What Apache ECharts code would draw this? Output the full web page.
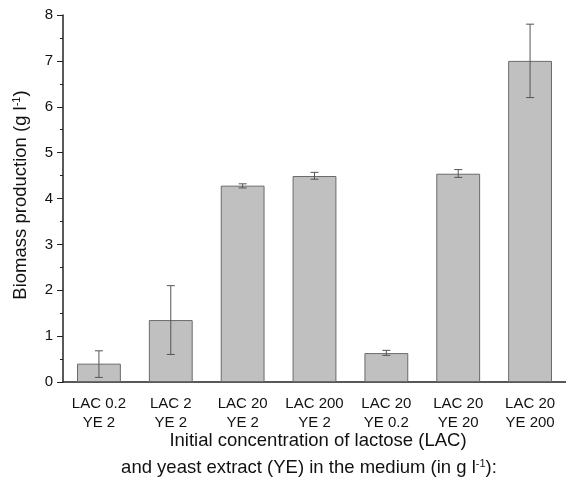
<!DOCTYPE html>
<html lang="en">
<head>
    <meta charset="UTF-8">
    <title>Biomass production</title>
    <script src="https://cdn.jsdelivr.net/npm/echarts@6/dist/echarts.min.js"></script>
    <style type="text/css">
        html, body {
            margin: 0;
            padding: 0;
            background: #fff;
        }
        #chart {
            width: 566px;
            height: 483px;
        }
    </style>
</head>
<body>
<div id="chart"></div>
<script type="text/javascript">
    // 培养基组合
    var categories = ['LAC 0.2\nYE 2', 'LAC 2\nYE 2', 'LAC 20\nYE 2', 'LAC 200\nYE 2',
        'LAC 20\nYE 0.2', 'LAC 20\nYE 20', 'LAC 20\nYE 200'];
    var biomass = [0.40, 1.35, 4.28, 4.49, 0.63, 4.54, 7.00];
    var errLow = [0.10, 0.60, 4.23, 4.42, 0.58, 4.46, 6.20];
    var errHigh = [0.68, 2.10, 4.32, 4.57, 0.69, 4.63, 7.80];
    var yTicks = [0, 1, 2, 3, 4, 5, 6, 7, 8];

    var font = '"Liberation Sans", Arial, sans-serif';

    var errData = [];
    for (var i = 0; i < categories.length; i++) {
        errData.push([i, errLow[i], errHigh[i]]);
    }

    function renderErr(params, api) {
        var x = api.value(0);
        var lo = api.coord([x, api.value(1)]);
        var hi = api.coord([x, api.value(2)]);
        var hw = 4;
        var st = {stroke: '#555', lineWidth: 1};
        return {
            type: 'group',
            children: [
                {type: 'line', shape: {x1: lo[0], y1: lo[1], x2: hi[0], y2: hi[1]}, style: st},
                {type: 'line', shape: {x1: lo[0] - hw, y1: lo[1], x2: lo[0] + hw, y2: lo[1]}, style: st},
                {type: 'line', shape: {x1: hi[0] - hw, y1: hi[1], x2: hi[0] + hw, y2: hi[1]}, style: st}
            ]
        };
    }

    var titleRich = {
        n: {fontFamily: font, fontSize: 18.5, fill: '#111'},
        s: {fontFamily: font, fontSize: 11, fill: '#111', verticalAlign: 'top', padding: [0, 0, 7, 0]}
    };

    var myChart = echarts.init(document.getElementById('chart'));
    var option = {
        animation: false,
        grid: {left: 63, right: 0, top: 15, bottom: 101},
        xAxis: {
            type: 'category',
            data: categories,
            axisLine: {lineStyle: {color: '#222', width: 1.5}},
            axisTick: {show: false},
            axisLabel: {
                color: '#111', fontFamily: font, fontSize: 15,
                lineHeight: 19, margin: 12, interval: 0
            }
        },
        yAxis: {
            type: 'value',
            min: 0,
            max: yTicks[yTicks.length - 1],
            interval: 1,
            splitLine: {show: false},
            axisLine: {show: true, lineStyle: {color: '#222', width: 1.5}},
            axisTick: {show: true, length: 6, lineStyle: {color: '#222'}},
            minorTick: {show: true, splitNumber: 2, length: 3, lineStyle: {color: '#222'}},
            axisLabel: {color: '#111', fontFamily: font, fontSize: 15, margin: 10}
        },
        graphic: [
            {
                type: 'text',
                x: 21, y: 195,
                rotation: Math.PI / 2,
                style: {
                    text: '{n|Biomass production (g l}{s|-1}{n|)}',
                    align: 'center', verticalAlign: 'middle',
                    rich: titleRich
                }
            },
            {
                type: 'text',
                x: 318, y: 441,
                style: {
                    text: 'Initial concentration of lactose (LAC)',
                    fontFamily: font, fontSize: 18.5, fill: '#111',
                    align: 'center', verticalAlign: 'middle'
                }
            },
            {
                type: 'text',
                x: 309, y: 468,
                style: {
                    text: '{n|and yeast extract (YE) in the medium (in g l}{s|-1}{n|):}',
                    align: 'center', verticalAlign: 'middle',
                    rich: titleRich
                }
            }
        ],
        series: [
            {
                name: 'Biomass',
                type: 'bar',
                data: biomass,
                barWidth: '61%',
                itemStyle: {color: '#c0c0c0', borderColor: '#6a6a6a', borderWidth: 1}
            },
            {
                name: 'Error',
                type: 'custom',
                data: errData,
                renderItem: renderErr,
                z: 10
            }
        ]
    };
    myChart.setOption(option);
</script>
</body>
</html>
